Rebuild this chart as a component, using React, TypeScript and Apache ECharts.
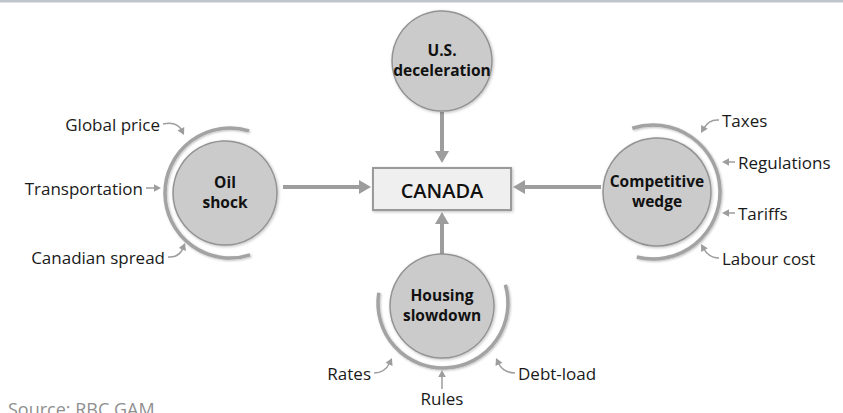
import React, { useEffect, useRef } from "react";
import * as echarts from "echarts";

// ---- content ----
const centerLabel = "CANADA";
const drivers = [
  ["U.S.", "deceleration"],
  ["Oil", "shock"],
  ["Competitive", "wedge"],
  ["Housing", "slowdown"],
];
const oilFactors = ["Global price", "Transportation", "Canadian spread"];
const competitiveFactors = ["Taxes", "Regulations", "Tariffs", "Labour cost"];
const housingFactors = ["Rates", "Rules", "Debt-load"];
const sourceText = "Source: RBC GAM";

// ---- layout ----
const FONT = "'Open Sans', 'Noto Sans', sans-serif";
const GRAY = "#9d9d9d";
const DEG = Math.PI / 180;

const circles = [
  { cx: 442, cy: 61, r: 50 },
  { cx: 225, cy: 193, r: 52 },
  { cx: 657, cy: 192, r: 54 },
  { cx: 442, cy: 306, r: 52 },
];
const arcs = [
  null,
  { cx: 230, cy: 193, r: 65, a0: 72, a1: 287 },
  { cx: 653, cy: 192, r: 67, a0: -108, a1: 104 },
  { cx: 443, cy: 303, r: 65, a0: -16.4, a1: 189 },
];
const box = { x: 373, y: 168, w: 138, h: 42 };
const mainArrows = [
  { x1: 442, y1: 112, x2: 442, y2: 163 },
  { x1: 283, y1: 187, x2: 371, y2: 187 },
  { x1: 601, y1: 187, x2: 513, y2: 187 },
  { x1: 442, y1: 255, x2: 442, y2: 212 },
];
const oilLayout = [
  { tx: 160, ty: 124, align: "right", s: [163, 124], c: [177, 121], t: [184, 135] },
  { tx: 143, ty: 188, align: "right", s: [146, 188], c: [153, 188], t: [161, 188] },
  { tx: 165, ty: 257, align: "right", s: [168, 257], c: [179, 258], t: [185, 243] },
];
const compLayout = [
  { tx: 722, ty: 120, align: "left", s: [719, 120], c: [709, 119], t: [701, 133] },
  { tx: 738, ty: 162, align: "left", s: [735, 162], c: [729, 162], t: [722, 162] },
  { tx: 738, ty: 213, align: "left", s: [735, 213], c: [729, 213], t: [722, 213] },
  { tx: 722, ty: 258, align: "left", s: [719, 258], c: [709, 258], t: [701, 244] },
];
const housingLayout = [
  { tx: 371, ty: 373, align: "right", s: [374, 373], c: [385, 373], t: [392, 358] },
  { tx: 442, ty: 398, align: "center", s: [442, 389], c: [442, 380], t: [442, 370] },
  { tx: 518, ty: 373, align: "left", s: [515, 373], c: [503, 373], t: [496, 358] },
];

function headPoints(tx: number, ty: number, fx: number, fy: number, len: number, hw: number) {
  const dx = tx - fx, dy = ty - fy;
  const d = Math.hypot(dx, dy) || 1;
  const ux = dx / d, uy = dy / d;
  const bx = tx - ux * len, by = ty - uy * len;
  return [
    [tx, ty],
    [bx - uy * hw, by + ux * hw],
    [bx + uy * hw, by - ux * hw],
  ];
}

function buildFactor(label: string, L: any) {
  const els: any[] = [];
  els.push({
    type: "text",
    x: L.tx,
    y: L.ty,
    style: { text: label, fill: "#1a1a1a", font: `17px ${FONT}`, align: L.align, verticalAlign: "middle" },
  });
  const [sx, sy] = L.s, [cx, cy] = L.c, [tx, ty] = L.t;
  const dx = tx - cx, dy = ty - cy;
  const d = Math.hypot(dx, dy) || 1;
  const ex = tx - (dx / d) * 5, ey = ty - (dy / d) * 5;
  els.push({
    type: "bezierCurve",
    shape: { x1: sx, y1: sy, cpx1: cx, cpy1: cy, x2: ex, y2: ey },
    style: { stroke: GRAY, lineWidth: 1.5, fill: null },
  });
  els.push({
    type: "polygon",
    shape: { points: headPoints(tx, ty, cx, cy, 7, 3.8) },
    style: { fill: GRAY },
  });
  return els;
}

export default function App() {
  const ref = useRef<HTMLDivElement>(null);
  useEffect(() => {
    if (!ref.current) return;
    const chart = echarts.init(ref.current, null, { renderer: "svg" });
    const els: any[] = [];
    els.push({ type: "rect", shape: { x: 0, y: 0, width: 843, height: 2.5 }, style: { fill: "#bfc5cb" } });

    arcs.forEach((a) => {
      if (!a) return;
      els.push({
        type: "arc",
        shape: { cx: a.cx, cy: a.cy, r: a.r, startAngle: a.a0 * DEG, endAngle: a.a1 * DEG, clockwise: true },
        style: { stroke: "#a3a3a3", lineWidth: 3.5, fill: null, shadowBlur: 2, shadowColor: "rgba(0,0,0,0.25)", shadowOffsetX: 1, shadowOffsetY: 1 },
      });
    });

    mainArrows.forEach((m) => {
      const dx = m.x2 - m.x1, dy = m.y2 - m.y1;
      const d = Math.hypot(dx, dy);
      const ex = m.x2 - (dx / d) * 10, ey = m.y2 - (dy / d) * 10;
      els.push({ type: "line", shape: { x1: m.x1, y1: m.y1, x2: ex, y2: ey }, style: { stroke: GRAY, lineWidth: 4 } });
      els.push({ type: "polygon", shape: { points: headPoints(m.x2, m.y2, m.x1, m.y1, 12, 7) }, style: { fill: GRAY } });
    });

    circles.forEach((c, i) => {
      els.push({
        type: "circle",
        shape: { cx: c.cx, cy: c.cy, r: c.r },
        style: { fill: "#cbcbcb", stroke: "#939393", lineWidth: 1.5, shadowBlur: 3, shadowColor: "rgba(0,0,0,0.25)", shadowOffsetX: 1, shadowOffsetY: 1 },
      });
      drivers[i].forEach((line, j) => {
        els.push({
          type: "text",
          x: c.cx,
          y: c.cy - 11 + j * 20,
          style: { text: line, fill: "#111", font: `bold 15.5px ${FONT}`, lineHeight: 17, align: "center", verticalAlign: "middle" },
        });
      });
    });

    els.push({
      type: "rect",
      shape: { x: box.x, y: box.y, width: box.w, height: box.h },
      style: { fill: "#efefef", stroke: "#9a9a9a", lineWidth: 2, shadowBlur: 3, shadowColor: "rgba(0,0,0,0.25)", shadowOffsetX: 1, shadowOffsetY: 1 },
    });
    els.push({
      type: "text",
      x: box.x + box.w / 2,
      y: box.y + box.h / 2 + 1,
      style: { text: centerLabel, fill: "#111", font: `600 20px ${FONT}`, align: "center", verticalAlign: "middle" },
    });

    oilFactors.forEach((f, i) => els.push(...buildFactor(f, oilLayout[i])));
    competitiveFactors.forEach((f, i) => els.push(...buildFactor(f, compLayout[i])));
    housingFactors.forEach((f, i) => els.push(...buildFactor(f, housingLayout[i])));

    els.push({
      type: "text",
      x: 8,
      y: 400,
      style: { text: sourceText, fill: "#8f8f8f", font: `18px ${FONT}`, align: "left", verticalAlign: "top" },
    });

    chart.setOption({ animation: false, backgroundColor: "#ffffff", graphic: { elements: els } });
    return () => chart.dispose();
  }, []);
  return <div ref={ref} style={{ position: "absolute", left: 0, top: 0, width: 843, height: 413 }} />;
}
